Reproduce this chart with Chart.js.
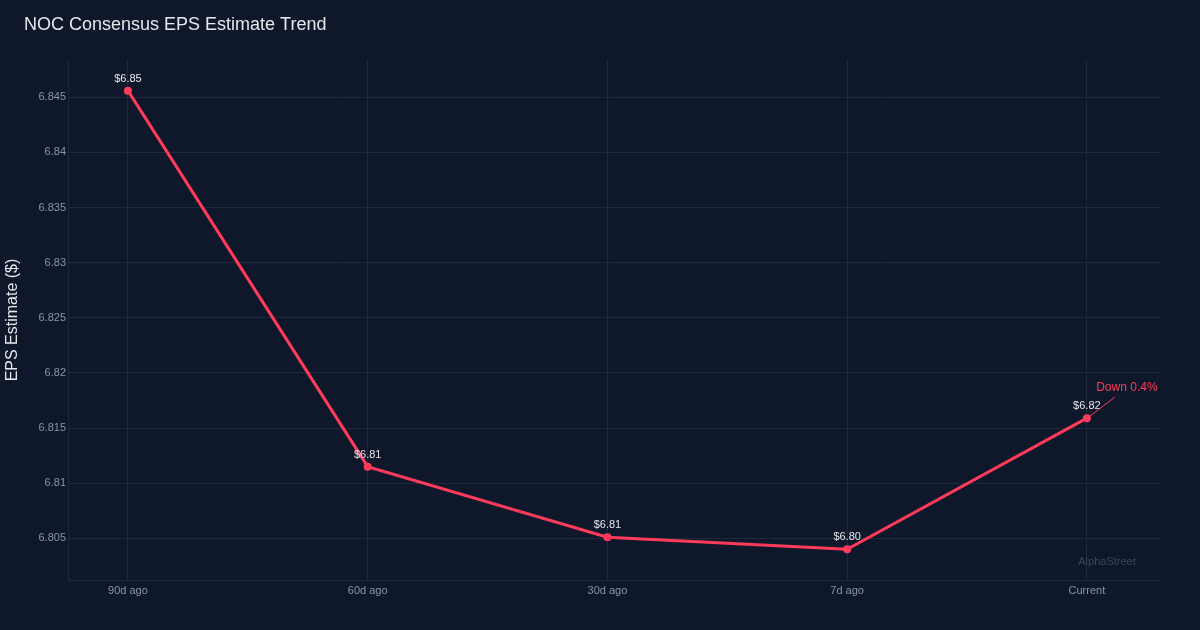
<!DOCTYPE html>
<html><head><meta charset="utf-8">
<script src="https://cdn.jsdelivr.net/npm/chart.js@4/dist/chart.umd.min.js"></script>
<style>html,body{margin:0;padding:0;background:#0f172a;}#wrap{width:1200px;height:630px;}</style>
</head><body><div id="wrap"><canvas id="c" width="1200" height="630"></canvas></div>
<script>
const categories = ["90d ago", "60d ago", "30d ago", "7d ago", "Current"];
const epsValues = [6.8456, 6.8115, 6.8051, 6.8040, 6.8159];
const pointLabels = ["$6.85", "$6.81", "$6.81", "$6.80", "$6.82"];
const yTicks = [6.805, 6.81, 6.815, 6.82, 6.825, 6.83, 6.835, 6.84, 6.845];
const changeLabel = "Down 0.4%";
const chartTitle = "NOC Consensus EPS Estimate Trend";
const yAxisTitle = "EPS Estimate ($)";
const watermark = "AlphaStreet";

const FONT = "'Liberation Sans', Arial, Helvetica, sans-serif";
const LINE = "#ff3b5c";
const GRID = "#1e293b";
const TICK = "#8b95a7";

const overlay = {
  id: 'overlay',
  beforeDraw(chart) {
    const ctx = chart.ctx;
    ctx.save();
    ctx.fillStyle = '#0f172a';
    ctx.fillRect(0, 0, chart.width, chart.height);
    ctx.restore();
  },
  afterDatasetsDraw(chart) {
    const ctx = chart.ctx;
    const ca = chart.chartArea;
    const meta = chart.getDatasetMeta(0);
    ctx.save();
    ctx.font = "18px " + FONT;
    ctx.fillStyle = "#e5e7eb";
    ctx.textAlign = "left";
    ctx.textBaseline = "middle";
    ctx.fillText(chartTitle, 24, 25);
    ctx.save();
    ctx.translate(13, (ca.top + ca.bottom) / 2);
    ctx.rotate(-Math.PI / 2);
    ctx.font = "16px " + FONT;
    ctx.textAlign = "center";
    ctx.fillText(yAxisTitle, 0, 0);
    ctx.restore();
    ctx.font = "11px " + FONT;
    ctx.fillStyle = "#e5e7eb";
    ctx.textAlign = "center";
    meta.data.forEach((p, i) => {
      ctx.fillText(pointLabels[i], p.x, p.y - 12);
    });
    const last = meta.data[meta.data.length - 1];
    ctx.strokeStyle = LINE;
    ctx.lineWidth = 1;
    ctx.beginPath();
    ctx.moveTo(last.x + 3, last.y - 2);
    ctx.lineTo(last.x + 28, last.y - 21);
    ctx.stroke();
    ctx.fillStyle = LINE;
    ctx.font = "12px " + FONT;
    ctx.fillText(changeLabel, last.x + 40, last.y - 30);
    ctx.fillStyle = "#3b4658";
    ctx.font = "11px " + FONT;
    ctx.fillText(watermark, ca.right - 53, ca.bottom - 18);
    ctx.restore();
  }
};

new Chart(document.getElementById('c'), {
  type: 'line',
  data: {
    datasets: [{
      data: epsValues.map((v, i) => ({ x: i, y: v })),
      borderColor: LINE,
      backgroundColor: LINE,
      borderWidth: 3,
      pointRadius: 4,
      pointBackgroundColor: LINE,
      pointBorderWidth: 0,
      tension: 0
    }]
  },
  options: {
    responsive: false,
    animation: false,
    layout: { padding: { left: 0, right: 40, top: 60, bottom: 0 } },
    plugins: { legend: { display: false }, title: { display: false }, tooltip: { enabled: false } },
    scales: {
      x: {
        type: 'linear',
        min: -0.25, max: 4.305,
        afterBuildTicks(s) { s.ticks = categories.map((c, i) => ({ value: i })); },
        afterFit(s) { s.height = 50; },
        ticks: {
          callback: (v) => categories[v] ?? '',
          color: TICK, font: { size: 11, family: FONT }, padding: 4, maxRotation: 0, autoSkip: false
        },
        grid: { color: GRID, lineWidth: 1, drawTicks: false },
        border: { display: true, color: GRID, width: 1 }
      },
      y: {
        min: 6.80122, max: 6.84838,
        afterBuildTicks(s) { s.ticks = yTicks.map(v => ({ value: v })); },
        afterFit(s) { s.width = 68; },
        ticks: {
          callback: (v) => String(parseFloat(Number(v).toFixed(3))),
          color: TICK, font: { size: 11, family: FONT }, padding: 2
        },
        grid: { color: GRID, lineWidth: 1, drawTicks: false },
        border: { display: true, color: GRID, width: 1 }
      }
    }
  },
  plugins: [overlay]
});
</script>
</body></html>
